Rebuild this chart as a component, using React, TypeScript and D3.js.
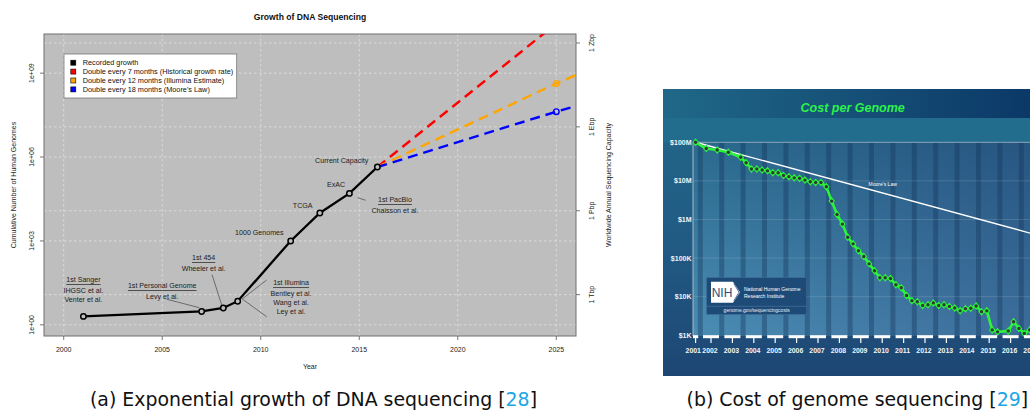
import React from 'react';
import * as d3 from 'd3';

// ---------- Chart (a): Growth of DNA Sequencing ----------
const recordedYears = [2001, 2007, 2008.1, 2008.83, 2011.52, 2013.0, 2014.5, 2015.92];
const recordedGenomes = [2, 3, 4, 7, 1000, 10000, 50000, 440000];
const projectionYears = [2015.92, 2025, 2026];
const projRed = [440000, 5.9e10, 2.2e11];
const projOrange = [440000, 4.3e8, 8.5e8];
const projBlue = [440000, 4.2e7, 6.7e7];
const projMarkerYear = 2025;
const xTicksA = [2000, 2005, 2010, 2015, 2020, 2025];
const yTicksA = [1, 1e3, 1e6, 1e9];
const yTickLabelsA = ['1e+00', '1e+03', '1e+06', '1e+09'];
const rightTicksA = [12, 1.2e4, 1.2e7, 1.2e10];
const rightTickLabelsA = ['1 Tbp', '1 Pbp', '1 Ebp', '1 Zbp'];
const legendLabels = [
  'Recorded growth',
  'Double every 7 months (Historical growth rate)',
  'Double every 12 months (Illumina Estimate)',
  "Double every 18 months (Moore's Law)",
];
const legendColors = ['#000000', '#ff0000', '#ffa500', '#0000ff'];

type Ann = { year: number; value: number; head: string | null; lines: string[] };
const annotations: Ann[] = [
  { year: 2001.0, value: 40, head: '1st Sanger', lines: ['IHGSC et al.', 'Venter et al.'] },
  { year: 2005.0, value: 24.4, head: '1st Personal Genome', lines: ['Levy et al.'] },
  { year: 2007.1, value: 240, head: '1st 454', lines: ['Wheeler et al.'] },
  { year: 2011.54, value: 30.5, head: '1st Illumina', lines: ['Bentley et al.', 'Wang et al.', 'Ley et al.'] },
  { year: 2009.93, value: 1970, head: null, lines: ['1000 Genomes'] },
  { year: 2012.13, value: 17700, head: null, lines: ['TCGA'] },
  { year: 2013.82, value: 97500, head: null, lines: ['ExAC'] },
  { year: 2014.11, value: 720000, head: null, lines: ['Current Capacity'] },
  { year: 2016.81, value: 29000, head: '1st PacBio', lines: ['Chaisson et al.'] },
];
const leaders: [number, number, number, number][] = [
  [2005.23, 8.2, 2006.88, 4.1],
  [2007.53, 62, 2008.02, 5.1],
  [2009.06, 8.4, 2010.3, 40],
  [2009.06, 8.4, 2010.3, 1.95],
  [2014.92, 35100, 2015.33, 28400],
];

// ---------- Chart (b): Cost per Genome ----------
const costYears = [
  2001.78, 2002.28, 2002.79, 2003.31,
  2003.89, 2004.14, 2004.39, 2004.64, 2004.89, 2005.14, 2005.39, 2005.64, 2005.89,
  2006.14, 2006.39, 2006.64, 2006.89, 2007.14, 2007.39, 2007.64, 2007.89,
  2008.14, 2008.39, 2008.64, 2008.89, 2009.14, 2009.39, 2009.64, 2009.89,
  2010.14, 2010.39, 2010.64, 2010.89, 2011.14, 2011.39, 2011.64, 2011.89,
  2012.14, 2012.39, 2012.64, 2012.89, 2013.14, 2013.39, 2013.64, 2013.89,
  2014.14, 2014.39, 2014.64, 2014.89, 2015.14, 2015.39, 2015.64, 2015.89,
  2016.39, 2016.64, 2016.89, 2017.14, 2017.39,
];
const costValues = [
  100e6, 69e6, 63e6, 55e6,
  41e6, 29.5e6, 20.4e6, 20.4e6, 19.1e6, 18.2e6, 16.2e6, 16.2e6, 13.8e6,
  12.9e6, 12.0e6, 11.7e6, 10.5e6, 9.5e6, 9.1e6, 9.1e6, 7.1e6,
  3.0e6, 1.35e6, 759e3, 347e3, 234e3, 155e3, 110e3, 71e3,
  47e3, 31e3, 31e3, 29.5e3, 20.4e3, 17e3, 10.7e3, 7.9e3,
  7.4e3, 5.9e3, 6.2e3, 6.9e3, 5.9e3, 6.2e3, 5.6e3, 5.1e3,
  4.3e3, 4.9e3, 5.0e3, 5.75e3, 4.1e3, 4.3e3, 1.38e3, 1.23e3,
  1.29e3, 2.24e3, 1.51e3, 1.12e3, 1.38e3,
];
const mooreYears = [2001.78, 2017.5];
const mooreCost = [100e6, 4.3e5];
const yTicksB = [1e8, 1e7, 1e6, 1e5, 1e4, 1e3];
const yTickLabelsB = ['$100M', '$10M', '$1M', '$100K', '$10K', '$1K'];
const yearLabelsB = ['2001', '2002', '2003', '2004', '2005', '2006', '2007', '2008', '2009', '2010', '2011', '2012', '2013', '2014', '2015', '2016', '2017'];

const FA = "'Liberation Sans', Arial, Helvetica, sans-serif";
const FCAP = "'DejaVu Sans', Verdana, sans-serif";

export default function App() {
  // ----- scales (a)
  const xA = d3.scaleLinear().domain([1999, 2026]).range([44, 576]);
  const yA = d3.scaleLog().domain([Math.pow(10, -0.4), Math.pow(10, 10.4)]).range([336, 34]);
  const lineA = d3.line<number>().x((_, i) => xA(recordedYears[i])).y((d) => yA(d));
  const projLine = (vals: number[]) =>
    d3.line<number>().x((_, i) => xA(projectionYears[i])).y((d) => yA(d))(vals) || '';
  const pmIdx = projectionYears.indexOf(projMarkerYear);

  // ----- scales (b)
  const xB = d3.scaleLinear().domain([2002.5, 2016.5]).range([711, 1010.6]);
  const yB = d3.scaleLog().domain([1e3, 1e8]).range([335.3, 142.3]);
  const costLine = d3.line<number>().x((_, i) => xB(costYears[i])).y((d) => yB(d))(costValues) || '';
  const mooreLine = d3.line<number>().x((_, i) => xB(mooreYears[i])).y((d) => yB(d))(mooreCost) || '';
  const plotTopB = yB(1e8);
  const plotBotB = 336;
  const plotLeftB = xB(2001.66);

  const tickPosB = (i: number) => (i === 0 ? xB(costYears[0]) : xB(+yearLabelsB[i] + 0.5));

  const gridDash = '2.5,2.5';

  return (
    <svg width={1030} height={410} style={{ position: 'absolute', left: 0, top: 0, background: '#fff' }}>
      <defs>
        <clipPath id="clipA">
          <rect x={44} y={34} width={532} height={302} />
        </clipPath>
        <linearGradient id="panelV" x1="0" y1="0" x2="0" y2="1">
          <stop offset="0" stopColor="#22698a" />
          <stop offset="0.55" stopColor="#215a83" />
          <stop offset="1" stopColor="#1d4673" />
        </linearGradient>
        <linearGradient id="titleH" x1="0" y1="0" x2="1" y2="0">
          <stop offset="0" stopColor="#206888" />
          <stop offset="1" stopColor="#0b3766" />
        </linearGradient>
        <linearGradient id="plotV" x1="0" y1="0" x2="0" y2="1">
          <stop offset="0" stopColor="#2b6a8e" />
          <stop offset="1" stopColor="#4b8db4" />
        </linearGradient>
        <linearGradient id="plotH" x1="0" y1="0" x2="1" y2="0">
          <stop offset="0" stopColor="#1e2864" stopOpacity="0" />
          <stop offset="1" stopColor="#1e2864" stopOpacity="0.32" />
        </linearGradient>
      </defs>

      {/* ================= Chart (a) ================= */}
      <g fontFamily={FA}>
        <text x={310} y={17} textAnchor="middle" dominantBaseline="central" fontSize={8.6} fontWeight="bold" fill="#111">
          Growth of DNA Sequencing
        </text>
        <rect x={44} y={34} width={532} height={302} fill="#bebebe" />
        {/* grid */}
        {xTicksA.map((t) => (
          <line key={'gx' + t} x1={xA(t)} x2={xA(t)} y1={34} y2={336} stroke="#e2e2e2" strokeWidth={0.8} strokeDasharray={gridDash} />
        ))}
        {[...yTicksA, ...rightTicksA].map((t) => (
          <line key={'gy' + t} x1={44} x2={576} y1={yA(t)} y2={yA(t)} stroke="#e2e2e2" strokeWidth={0.8} strokeDasharray={gridDash} />
        ))}
        <rect x={44} y={34} width={532} height={302} fill="none" stroke="#6e6e6e" strokeWidth={1} />

        {/* bottom axis */}
        {xTicksA.map((t) => (
          <g key={'xt' + t}>
            <line x1={xA(t)} x2={xA(t)} y1={336} y2={340} stroke="#555" strokeWidth={0.8} />
            <text x={xA(t)} y={349} textAnchor="middle" dominantBaseline="central" fontSize={7} fill="#222">{t}</text>
          </g>
        ))}
        <text x={310} y={366.5} textAnchor="middle" dominantBaseline="central" fontSize={7} fill="#222">Year</text>

        {/* left axis */}
        {yTicksA.map((t, i) => (
          <g key={'yt' + t}>
            <line x1={40} x2={44} y1={yA(t)} y2={yA(t)} stroke="#555" strokeWidth={0.8} />
            <text transform={`translate(31.7,${yA(t)}) rotate(-90)`} textAnchor="middle" dominantBaseline="central" fontSize={7} fill="#222">
              {yTickLabelsA[i]}
            </text>
          </g>
        ))}
        <text transform="translate(13.3,185) rotate(-90)" textAnchor="middle" dominantBaseline="central" fontSize={7} fill="#222">
          Cumulative Number of Human Genomes
        </text>

        {/* right axis */}
        {rightTicksA.map((t, i) => (
          <g key={'rt' + t}>
            <line x1={576} x2={580} y1={yA(t)} y2={yA(t)} stroke="#555" strokeWidth={0.8} />
            <text transform={`translate(591,${yA(t)}) rotate(-90)`} textAnchor="middle" dominantBaseline="central" fontSize={7} fill="#222">
              {rightTickLabelsA[i]}
            </text>
          </g>
        ))}
        <text transform="translate(608.3,185) rotate(-90)" textAnchor="middle" dominantBaseline="central" fontSize={7} fill="#222">
          Worldwide Annual Sequencing Capacity
        </text>

        {/* projections */}
        <g clipPath="url(#clipA)">
          <path d={projLine(projRed)} fill="none" stroke="#ff0000" strokeWidth={2.4} strokeDasharray="10,6" />
          <path d={projLine(projOrange)} fill="none" stroke="#ffa500" strokeWidth={2.4} strokeDasharray="10,6" />
          <path d={projLine(projBlue)} fill="none" stroke="#0000ff" strokeWidth={2.4} strokeDasharray="10,6" />
          {[[projOrange, '#ffa500'], [projBlue, '#0000ff']].map(([vals, col], i) => (
            <circle key={'pm' + i} cx={xA(projMarkerYear)} cy={yA((vals as number[])[pmIdx])} r={2.8} fill="none" stroke={col as string} strokeWidth={1.4} />
          ))}
        </g>

        {/* recorded growth */}
        <path d={lineA(recordedGenomes) || ''} fill="none" stroke="#000" strokeWidth={2.3} />
        {recordedGenomes.map((g, i) => (
          <circle key={'rp' + i} cx={xA(recordedYears[i])} cy={yA(g)} r={2.7} fill="#bebebe" stroke="#000" strokeWidth={1.5} />
        ))}

        {/* leaders */}
        {leaders.map((l, i) => (
          <line key={'ld' + i} x1={xA(l[0])} y1={yA(l[1])} x2={xA(l[2])} y2={yA(l[3])} stroke="#333" strokeWidth={0.6} />
        ))}

        {/* annotations */}
        {annotations.map((a, i) => {
          const x = xA(a.year);
          const y0 = yA(a.value);
          return (
            <g key={'an' + i} fontSize={7.1} fill="#222" textAnchor="middle">
              {a.head && (
                <text x={x} y={y0} dominantBaseline="central" style={{ textDecoration: 'underline' }}>{a.head}</text>
              )}
              {a.lines.map((s, j) => (
                <text key={j} x={x} y={a.head ? y0 + 10.5 + j * 9 : y0 + j * 9} dominantBaseline="central">{s}</text>
              ))}
            </g>
          );
        })}

        {/* legend */}
        <rect x={64} y={54} width={172.7} height={44} fill="#fff" stroke="#777" strokeWidth={0.8} />
        {legendLabels.map((s, i) => (
          <g key={'lg' + i}>
            <rect x={70.8} y={62.7 + i * 8.9 - 2.5} width={5} height={5} fill={legendColors[i]} stroke="#000" strokeWidth={0.6} />
            <text x={82.7} y={62.7 + i * 8.9} dominantBaseline="central" fontSize={7.3} fill="#111">{s}</text>
          </g>
        ))}
      </g>

      {/* ================= Chart (b) ================= */}
      <g fontFamily={FA}>
        <rect x={663} y={89} width={380} height={287} fill="url(#panelV)" />
        <rect x={663} y={89} width={380} height={29} fill="url(#titleH)" />
        <rect x={663} y={118} width={380} height={plotTopB - 118} fill="#226d8e" />
        <text x={852.7} y={108.3} textAnchor="middle" dominantBaseline="central" fontSize={12.5} fontWeight="bold" fontStyle="italic" fill="#2bf24a">
          Cost per Genome
        </text>
        {/* plot area */}
        <rect x={plotLeftB} y={plotTopB} width={1040 - plotLeftB} height={plotBotB - plotTopB} fill="url(#plotV)" />
        <rect x={plotLeftB} y={plotTopB} width={1040 - plotLeftB} height={plotBotB - plotTopB} fill="url(#plotH)" />
        {yearLabelsB.slice(1).map((s) => (
          <rect key={'st' + s} x={xB(+s) - 2.5} y={plotTopB} width={5} height={plotBotB - plotTopB} fill="#12345c" opacity={0.38} />
        ))}
        {yTicksB.slice(1, 5).map((t) => (
          <line key={'gb' + t} x1={plotLeftB} x2={1030} y1={yB(t)} y2={yB(t)} stroke="#ffffff" strokeOpacity={0.13} strokeWidth={1} />
        ))}
        <line x1={plotLeftB} x2={1030} y1={plotTopB} y2={plotTopB} stroke="#8fa6b6" strokeWidth={1} />
        <line x1={plotLeftB} x2={plotLeftB} y1={plotTopB} y2={plotBotB} stroke="#a9bcc8" strokeWidth={1} />

        {/* y labels */}
        {yTicksB.map((t, i) => (
          <text key={'yb' + t} x={691.5} y={yB(t)} textAnchor="end" dominantBaseline="central" fontSize={7} fontWeight="bold" fill="#f2f5f8">
            {yTickLabelsB[i]}
          </text>
        ))}

        {/* NIH box */}
        <rect x={706.7} y={277.7} width={100} height={36.6} fill="#1e4a78" stroke="#3d6a94" strokeWidth={0.6} />
        <path d="M711,281.7 L733,281.7 L740,292.2 L733,302.7 L711,302.7 Z" fill="#ffffff" />
        <path d="M733.8,283.5 L739,292.2 L733.8,300.9" fill="none" stroke="#1f4e80" strokeWidth={0.8} />
        <text x={722} y={292.6} textAnchor="middle" dominantBaseline="central" fontSize={12} fill="#1f4e80">NIH</text>
        <text x={744} y={288.5} fontSize={5} fill="#fff" dominantBaseline="central">National Human Genome</text>
        <text x={744} y={295.8} fontSize={5} fill="#fff" dominantBaseline="central">Research Institute</text>
        <line x1={706.7} x2={806.7} y1={306.3} y2={306.3} stroke="#4b78a2" strokeWidth={0.6} />
        <text x={756.7} y={310.4} fontSize={5} fill="#e8eef4" textAnchor="middle" dominantBaseline="central">genome.gov/sequencingcosts</text>

        {/* Moore's law */}
        <path d={mooreLine} fill="none" stroke="#ffffff" strokeWidth={1.4} />
        <text x={882.7} y={184} fontSize={5} fill="#fff" textAnchor="middle" dominantBaseline="central">Moore's Law</text>

        {/* cost line */}
        <path d={costLine} fill="none" stroke="#2cf43a" strokeWidth={2.6} strokeLinejoin="round" />
        {costValues.map((c, i) => {
          const cx = xB(costYears[i]);
          const cy = yB(c);
          return (
            <g key={'cm' + i}>
              <path d={`M${cx},${cy - 4} L${cx + 3.3},${cy} L${cx},${cy + 4} L${cx - 3.3},${cy} Z`} fill="#2cf43a" />
              <circle cx={cx} cy={cy} r={1.7} fill="#2b3b30" />
            </g>
          );
        })}

        {/* x axis bars, ticks, labels */}
        {yearLabelsB.map((s, i) => {
          const cx = tickPosB(i);
          const half = i === 0 ? 2.6 : 8;
          return (
            <g key={'xb' + s}>
              <rect x={cx - half} y={335.2} width={half * 2} height={3} fill="#ffffff" />
              <line x1={cx} x2={cx} y1={336} y2={343} stroke="#ffffff" strokeWidth={1.2} />
              <text x={cx - (i === 0 ? 2.3 : 1)} y={350.7} textAnchor="middle" dominantBaseline="central" fontSize={6.9} fontWeight="bold" fill="#f2f5f8">
                {s}
              </text>
            </g>
          );
        })}
      </g>

      {/* ================= Captions ================= */}
      <text x={313.5} y={405.5} textAnchor="middle" fontFamily={FCAP} fontSize={18.9} fill="#111">
        (a) Exponential growth of DNA sequencing [<tspan fill="#19a6e6">28</tspan>]
      </text>
      <text x={857.3} y={405.5} textAnchor="middle" fontFamily={FCAP} fontSize={18.9} fill="#111">
        (b) Cost of genome sequencing [<tspan fill="#19a6e6">29</tspan>]
      </text>
    </svg>
  );
}
